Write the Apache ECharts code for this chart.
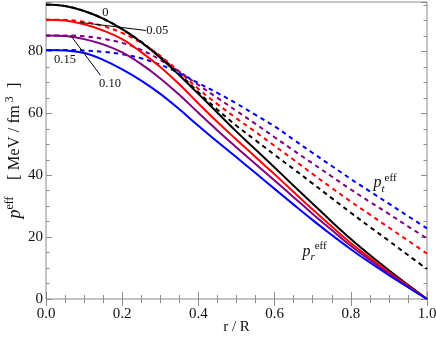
<!DOCTYPE html>
<html>
<head>
<meta charset="utf-8">
<script src="https://cdn.jsdelivr.net/npm/echarts@6/dist/echarts.min.js"></script>
<style>
html, body { margin: 0; padding: 0; background: #fff; }
#main { width: 436px; height: 354px; }
</style>
</head>
<body>
<div id="main"></div>
<script>
// r / R sample points
var rr = [0, 0.05, 0.1, 0.15, 0.2, 0.25, 0.3, 0.35, 0.4, 0.45, 0.5,
          0.55, 0.6, 0.65, 0.7, 0.75, 0.8, 0.85, 0.9, 0.95, 1.0];

// radial effective pressure (solid)
var prBlack  = [95.2, 94.7, 93.1, 90.6, 87.2, 83.0, 78.0, 72.3, 66.3, 60.2, 54.1,
                48.3, 42.5, 36.6, 30.8, 25.0, 19.4, 14.2, 9.3, 4.6, 0];
var prRed    = [90.3, 90.0, 88.8, 86.8, 84.0, 79.8, 75.0, 69.4, 63.2, 57.2, 51.5,
                45.9, 40.3, 34.6, 28.9, 23.4, 18.1, 13.3, 8.7, 4.3, 0];
var prPurple = [85.2, 85.0, 84.0, 82.3, 79.7, 75.9, 71.3, 66.0, 60.2, 54.5, 49.0,
                43.6, 38.3, 32.9, 27.5, 22.3, 17.2, 12.6, 8.2, 4.0, 0];
var prBlue   = [80.5, 80.3, 79.5, 77.3, 74.2, 70.6, 66.3, 61.3, 56.0, 50.8, 45.8,
                40.7, 35.6, 30.5, 25.5, 20.7, 16.1, 11.8, 7.7, 3.8, 0];

// tangential effective pressure (dashed)
var ptBlack  = [95.2, 94.7, 93.1, 90.6, 87.2, 83.1, 78.3, 72.8, 66.8, 61.2, 56.0,
                51.3, 46.6, 42.0, 37.3, 32.6, 27.9, 23.3, 18.8, 14.2, 9.7];
var ptRed    = [90.3, 90.2, 89.6, 88.2, 86.0, 82.8, 78.6, 73.5, 67.9, 63.0, 58.4,
                54.0, 49.5, 45.0, 40.4, 35.9, 31.5, 27.3, 23.1, 18.9, 14.7];
var ptPurple = [85.2, 85.2, 84.9, 84.1, 82.8, 80.5, 77.3, 73.5, 69.2, 65.0, 60.8,
                56.6, 52.3, 48.0, 43.8, 39.6, 35.4, 31.4, 27.5, 23.5, 19.6];
var ptBlue   = [80.5, 80.5, 80.3, 79.9, 79.1, 77.8, 75.7, 73.0, 69.8, 66.6, 63.2,
                59.5, 55.8, 51.5, 47.2, 43.0, 38.8, 34.8, 30.8, 26.8, 22.8];

var curveColors = ['#000000', '#ff0000', '#800080', '#0000ff'];

// curve tags: [r, value, text]
var tagLabels = [[0.156, 92.4, '0'], [0.292, 86.6, '0.05'], [0.168, 69.6, '0.10'], [0.05, 77.3, '0.15']];
// leader lines: [r1, v1, r2, v2]
var leaders = [[0.09, 89.4, 0.262, 86.8], [0.064, 85.3, 0.143, 72.3]];
// p_t / p_r tags: [r, value, subscript]
var pTags = [[0.89, 37.4, 't'], [0.705, 15.2, 'r']];

var frameColor = '#8c8c8c';
var serif = '"Liberation Serif", "DejaVu Serif", serif';

var chart = echarts.init(document.getElementById('main'));

function pairs(arr) {
    return rr.map(function (r, i) { return [r, arr[i]]; });
}

var series = [];
[ptBlack, ptRed, ptPurple, ptBlue].forEach(function (arr, i) {
    series.push({
        type: 'line', data: pairs(arr), smooth: 0.4, symbol: 'none',
        lineStyle: { color: curveColors[i], width: 2, type: [4.5, 4] }, z: 3
    });
});
[prBlack, prRed, prPurple, prBlue].forEach(function (arr, i) {
    series.push({
        type: 'line', data: pairs(arr), smooth: 0.4, symbol: 'none',
        lineStyle: { color: curveColors[i], width: 2 }, z: 4
    });
});
leaders.forEach(function (l) {
    series.push({
        type: 'line', data: [[l[0], l[1]], [l[2], l[3]]], symbol: 'none',
        lineStyle: { color: '#000', width: 1 }, z: 5
    });
});

function yAx(pos, step, major) {
    return {
        type: 'value', min: 0, max: 96, interval: step, position: pos,
        axisLine: { show: false },
        axisTick: { show: true, inside: true, length: major ? 6 : 3.5, lineStyle: { color: frameColor } },
        axisLabel: {
            show: major && pos === 'left', color: '#111', fontFamily: serif, fontSize: 15, margin: 3,
            formatter: function (v) { return v % 20 === 0 ? v : ''; }
        },
        splitLine: { show: false }
    };
}
function xAx(pos) {
    return {
        type: 'value', min: 0, max: 1, interval: 0.2, position: pos,
        axisLine: { show: false },
        axisTick: { show: true, inside: true, length: 7, lineStyle: { color: frameColor } },
        minorTick: { show: true, splitNumber: 4, length: 4, lineStyle: { color: frameColor } },
        axisLabel: {
            show: pos === 'bottom', color: '#111', fontFamily: serif, fontSize: 15, margin: 8,
            formatter: function (v) { return v.toFixed(1); }
        },
        splitLine: { show: false }
    };
}

var xBottom = xAx('bottom');
xBottom.name = 'r / R';
xBottom.nameLocation = 'middle';
xBottom.nameGap = 21;
xBottom.nameMoveOverlap = false;
xBottom.nameTextStyle = { fontFamily: serif, fontSize: 15, color: '#111' };

var yLeft = yAx('left', 20, true);
yLeft.name = '{p|p}{e|eff}{t|    [ MeV / fm}{e| 3}{t|  ]}';
yLeft.nameLocation = 'middle';
yLeft.nameGap = 20;
yLeft.nameMoveOverlap = false;
yLeft.nameTextStyle = {
    color: '#111',
    rich: {
        p: { fontStyle: 'italic', fontSize: 18, fontFamily: serif, color: '#111', lineHeight: 22 },
        e: { fontSize: 12, fontFamily: serif, color: '#111', verticalAlign: 'top', lineHeight: 22 },
        t: { fontSize: 16.5, fontFamily: serif, color: '#111', lineHeight: 22 }
    }
};

chart.setOption({
    animation: false,
    backgroundColor: '#fff',
    grid: {
        left: 46, right: 9, top: 2, bottom: 55, outerBoundsMode: 'none', containLabel: false,
        show: true, borderColor: frameColor, borderWidth: 1
    },
    xAxis: [xBottom, xAx('top')],
    yAxis: [yLeft, yAx('left', 5, false), yAx('right', 20, true), yAx('right', 5, false)],
    series: series
});

// text tags placed through the grid's own scales
var graphics = [];
tagLabels.forEach(function (t) {
    var px = chart.convertToPixel({ gridIndex: 0 }, [t[0], t[1]]);
    graphics.push({
        type: 'text', x: px[0], y: px[1], z: 10,
        style: { text: t[2], fill: '#111', font: '12.5px ' + serif, align: 'center', verticalAlign: 'middle' }
    });
});
pTags.forEach(function (t) {
    var px = chart.convertToPixel({ gridIndex: 0 }, [t[0], t[1]]);
    graphics.push({
        type: 'text', x: px[0], y: px[1], z: 10,
        style: {
            text: '{p|p}{s|' + t[2] + '}{e|eff}', fill: '#111', align: 'center', verticalAlign: 'middle',
            rich: {
                p: { fontStyle: 'italic', fontSize: 16, fontFamily: serif, lineHeight: 22, verticalAlign: 'middle' },
                s: { fontStyle: 'italic', fontSize: 11, fontFamily: serif, verticalAlign: 'bottom', lineHeight: 22 },
                e: { fontSize: 11, fontFamily: serif, verticalAlign: 'top', lineHeight: 22 }
            }
        }
    });
});
chart.setOption({ graphic: graphics });
</script>
</body>
</html>
